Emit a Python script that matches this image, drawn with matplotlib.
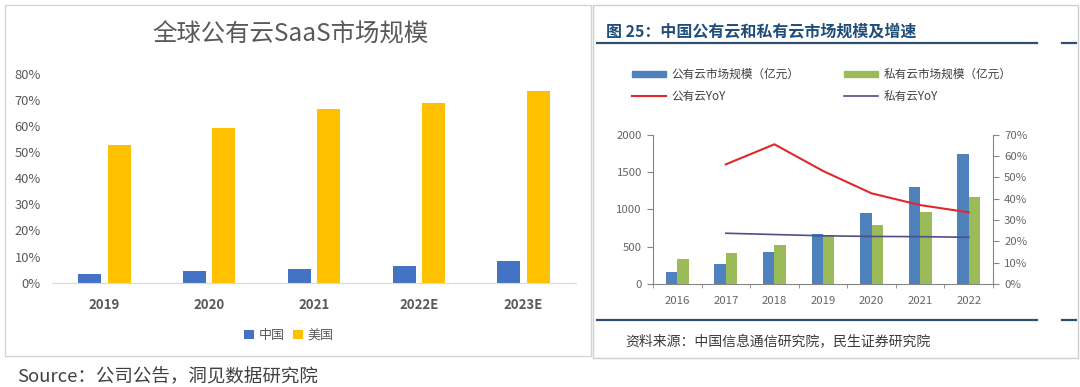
import matplotlib
matplotlib.use('Agg')
import matplotlib.pyplot as plt
from matplotlib.patches import Rectangle, Patch
from matplotlib.lines import Line2D
import numpy as np

plt.rcParams['font.family'] = ['Noto Sans CJK SC', 'DejaVu Sans']

# left chart: global public cloud SaaS (share, %)
saas_years = ['2019', '2020', '2021', '2022E', '2023E']
saas_china = [3.2, 4.4, 5.4, 6.5, 8.3]
saas_us = [52.8, 59.3, 66.4, 68.7, 73.6]

# right chart: China public / private cloud market size (亿元) and YoY (%)
cloud_years = ['2016', '2017', '2018', '2019', '2020', '2021', '2022']
public_size = [165, 264, 433, 666, 947, 1295, 1737]
private_size = [339, 420, 522, 656, 786, 960, 1170]
public_yoy = [np.nan, 56.1, 65.5, 53.0, 42.5, 37.0, 33.6]
private_yoy = [np.nan, 23.8, 23.2, 22.6, 22.3, 22.2, 21.9]

W, H = 1080, 387
def fx(px):
    return px / W
def fy(py):
    return 1 - py / H

fig = plt.figure(figsize=(10.8, 3.87), dpi=100)
fig.patch.set_facecolor('white')

# panel frames
fig.add_artist(Rectangle((fx(5), fy(356)), (591 - 5) / W, (356 - 5) / H,
                         transform=fig.transFigure, fill=False, ec='#d4d4d4', lw=1))
fig.add_artist(Rectangle((fx(593), fy(358)), (1078 - 593) / W, (358 - 5) / H,
                         transform=fig.transFigure, fill=False, ec='#cfcfcf', lw=1))

# ---- left chart ----
grey = '#595959'
ax1 = fig.add_axes([fx(52), fy(282.7), (576 - 52) / W, (282.7 - 73.9) / H])
x1 = np.arange(len(saas_years))
ax1.bar(x1 - 0.14, saas_china, 0.22, color='#4472c4', label='中国')
ax1.bar(x1 + 0.14, saas_us, 0.22, color='#ffc000', label='美国')
ax1.set_xlim(-0.5, len(saas_years) - 0.5)
ax1.set_ylim(0, 80)
ax1.set_yticks(range(0, 81, 10))
ax1.set_yticklabels([f'{v}%' for v in range(0, 81, 10)], fontsize=9.3, color=grey,
                    fontweight='medium')
ax1.set_xticks(x1)
ax1.set_xticklabels(saas_years, fontsize=9.5, fontweight='bold', color=grey)
ax1.tick_params(axis='both', length=0)
ax1.tick_params(axis='y', pad=8)
ax1.tick_params(axis='x', pad=11)
for s in ['top', 'right', 'left']:
    ax1.spines[s].set_visible(False)
ax1.spines['bottom'].set_color('#d9d9d9')
ax1.set_facecolor('none')
leg1 = ax1.legend(ncol=2, loc='center', bbox_to_anchor=(fx(289), fy(335.7)),
                  bbox_transform=fig.transFigure, frameon=False, fontsize=9.4,
                  handlelength=0.75, handleheight=0.75, handletextpad=0.4,
                  columnspacing=0.6)
for t in leg1.get_texts():
    t.set_color(grey)

fig.text(fx(290), fy(35), '全球公有云SaaS市场规模', ha='center', va='center',
         fontsize=17.6, color=grey)

# ---- right chart ----
tick_grey = '#666666'
ax2 = fig.add_axes([fx(653), fy(284), (993 - 653) / W, (284 - 134.7) / H])
x2 = np.arange(len(cloud_years))
ax2.bar(x2 - 0.1175, public_size, 0.235, color='#4f81bd')
ax2.bar(x2 + 0.1175, private_size, 0.235, color='#9bbb59')
ax2.set_xlim(-0.5, len(cloud_years) - 0.5)
ax2.set_ylim(0, 2000)
ax2.set_yticks(range(0, 2001, 500))
ax2.set_xticks(x2)
ax2.set_xticklabels(cloud_years, fontsize=8.2, color=tick_grey)
ax2.set_xticks(np.arange(-0.5, len(cloud_years), 1), minor=True)
ax2.tick_params(axis='x', which='major', length=0, pad=9)
ax2.tick_params(axis='x', which='minor', length=3, direction='out', color='#868686')
ax2.tick_params(axis='y', length=4, direction='out', color='#868686',
                labelsize=8.2, labelcolor=tick_grey, pad=4)
for s in ['top', 'right']:
    ax2.spines[s].set_visible(False)
for s in ['left', 'bottom']:
    ax2.spines[s].set_color('#868686')

ax3 = ax2.twinx()
ax3.plot(x2, public_yoy, color='#e0282c', lw=1.5)
ax3.plot(x2, private_yoy, color='#4d4f86', lw=1.2)
ax3.set_ylim(0, 70)
ax3.set_yticks(range(0, 71, 10))
ax3.set_yticklabels([f'{v}%' for v in range(0, 71, 10)])
ax3.tick_params(axis='y', length=4, direction='out', color='#868686',
                labelsize=8.2, labelcolor=tick_grey, pad=4)
for s in ['top', 'left', 'bottom']:
    ax3.spines[s].set_visible(False)
ax3.spines['right'].set_color('#868686')

handles = [Patch(color='#4f81bd'), Line2D([], [], color='#e0282c', lw=1.5),
           Patch(color='#9bbb59'), Line2D([], [], color='#4d4f86', lw=1.2)]
labels = ['公有云市场规模（亿元）', '公有云YoY', '私有云市场规模（亿元）', '私有云YoY']
leg2 = fig.legend(handles, labels, ncol=2, loc='upper left',
                  bbox_to_anchor=(fx(626), fy(62)), frameon=False, fontsize=8.4,
                  handlelength=2.9, handleheight=0.45, handletextpad=0.5,
                  columnspacing=3.8, labelspacing=0.75, borderpad=0)
for t in leg2.get_texts():
    t.set_color('#404040')

fig.text(fx(606), fy(31), '图 25：中国公有云和私有云市场规模及增速', ha='left', va='center',
         fontsize=11.5, fontweight='bold', color='#1f4e79')
line_col = '#2f4f6f'
for yy in (43, 320):
    fig.add_artist(Line2D([fx(597), fx(1037)], [fy(yy), fy(yy)],
                          transform=fig.transFigure, color=line_col, lw=1.6))
    fig.add_artist(Line2D([fx(1062), fx(1076)], [fy(yy), fy(yy)],
                          transform=fig.transFigure, color=line_col, lw=1.6))
fig.text(fx(625), fy(341.7), '资料来源：中国信息通信研究院，民生证券研究院',
         ha='left', va='center', fontsize=10, color='#3a3a3a')

fig.text(fx(17), fy(377), 'Source：公司公告，洞见数据研究院', ha='left', va='center',
         fontsize=13.3, color='#404040', fontweight='light')

fig.savefig('out.png', dpi=100)
